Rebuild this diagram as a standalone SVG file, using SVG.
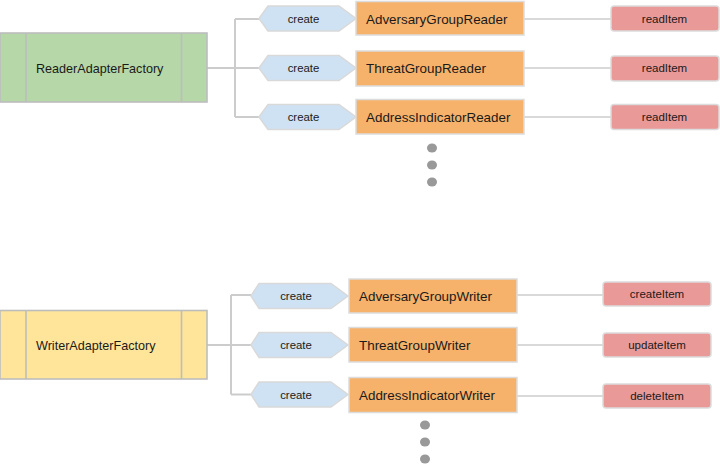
<svg xmlns="http://www.w3.org/2000/svg" width="720" height="464" viewBox="0 0 720 464">
  <style>
    text { font-family: "Liberation Sans", Arial, sans-serif; fill: #1a1a1a; }
    .factory { stroke: #bdbdbd; stroke-width: 1.6; }
    .divider { stroke: #bdbdbd; stroke-width: 1.6; fill: none; }
    .ftext { font-size: 12.6px; }
    .hex { fill: #cfe2f3; stroke: #d9d9d9; stroke-width: 1.5; }
    .htext { font-size: 11.4px; text-anchor: middle; }
    .cls { fill: #f6b26b; stroke: #dcdcdc; stroke-width: 1.5; }
    .ctext { font-size: 13.4px; }
    .method { fill: #ea9999; stroke: #dcdcdc; stroke-width: 1.5; }
    .mtext { font-size: 11.5px; text-anchor: middle; }
    .link { stroke: #d9d9d9; stroke-width: 2; fill: none; }
    .trunk { stroke: #cccccc; stroke-width: 2; fill: none; }
    .dot { fill: #999999; }
  </style>

  <!-- connectors -->
  <g id="connectors">
    <!-- reader side -->
    <path class="trunk" d="M207,68 H235 M235,19 V117 M235,19 H259 M235,68 H259 M235,117 H259"/>
    <path class="link" d="M524,19 H611 M524,68 H611 M524,117 H611"/>
    <!-- writer side -->
    <path class="trunk" d="M207,345 H231 M231,295 V394.5 M231,295 H251 M231,345 H251 M231,394.5 H251"/>
    <path class="link" d="M517,295 H603 M517,345 H603 M517,396 H603"/>
  </g>

  <!-- reader factory -->
  <g id="reader-factory">
    <rect class="factory" x="0" y="33" width="207" height="69" fill="#b6d7a8"/>
    <path class="divider" d="M26,33 V102 M181.5,33 V102"/>
    <text class="ftext" x="36" y="73">ReaderAdapterFactory</text>
  </g>

  <!-- reader create labels -->
  <g id="reader-create-1">
    <polygon class="hex" points="259,18.5 268,6 339,6 356,18.5 339,31 268,31"/>
    <text class="htext" x="303.5" y="22.5">create</text>
  </g>
  <g id="reader-create-2">
    <polygon class="hex" points="259,68 268,55.5 339,55.5 356,68 339,80.5 268,80.5"/>
    <text class="htext" x="303.5" y="72">create</text>
  </g>
  <g id="reader-create-3">
    <polygon class="hex" points="259,117 268,104.5 339,104.5 356,117 339,129.5 268,129.5"/>
    <text class="htext" x="303.5" y="121">create</text>
  </g>

  <!-- reader classes -->
  <g id="adversary-group-reader">
    <rect class="cls" x="356" y="1.5" width="168" height="33.5"/>
    <text class="ctext" x="366" y="23.5">AdversaryGroupReader</text>
  </g>
  <g id="threat-group-reader">
    <rect class="cls" x="356" y="51" width="168" height="35"/>
    <text class="ctext" x="366" y="73">ThreatGroupReader</text>
  </g>
  <g id="address-indicator-reader">
    <rect class="cls" x="356" y="99.5" width="168" height="34.5"/>
    <text class="ctext" x="366" y="122">AddressIndicatorReader</text>
  </g>

  <!-- reader methods -->
  <g id="reader-read-1">
    <rect class="method" x="611" y="6" width="108" height="25" rx="3"/>
    <text class="mtext" x="664.5" y="22.5">readItem</text>
  </g>
  <g id="reader-read-2">
    <rect class="method" x="611" y="56" width="108" height="25" rx="3"/>
    <text class="mtext" x="664.5" y="72">readItem</text>
  </g>
  <g id="reader-read-3">
    <rect class="method" x="611" y="104.5" width="108" height="25" rx="3"/>
    <text class="mtext" x="664.5" y="121">readItem</text>
  </g>

  <g id="reader-more">
    <ellipse class="dot" cx="432" cy="148" rx="5" ry="4.5"/>
    <ellipse class="dot" cx="432" cy="165" rx="5" ry="4.5"/>
    <ellipse class="dot" cx="432" cy="182" rx="5" ry="4.5"/>
  </g>

  <!-- writer factory -->
  <g id="writer-factory">
    <rect class="factory" x="0" y="310.5" width="207" height="68.5" fill="#ffe599"/>
    <path class="divider" d="M26,310.5 V379 M181.5,310.5 V379"/>
    <text class="ftext" x="36" y="350">WriterAdapterFactory</text>
  </g>

  <!-- writer create labels -->
  <g id="writer-create-1">
    <polygon class="hex" points="251,296 259,283.5 331,283.5 348,296 331,308.5 259,308.5"/>
    <text class="htext" x="296" y="300">create</text>
  </g>
  <g id="writer-create-2">
    <polygon class="hex" points="251,345 259,332.5 331,332.5 348,345 331,357.5 259,357.5"/>
    <text class="htext" x="296" y="349">create</text>
  </g>
  <g id="writer-create-3">
    <polygon class="hex" points="251,394.5 259,382 331,382 348,394.5 331,407 259,407"/>
    <text class="htext" x="296" y="398.5">create</text>
  </g>

  <!-- writer classes -->
  <g id="adversary-group-writer">
    <rect class="cls" x="349" y="279" width="168" height="34"/>
    <text class="ctext" x="359" y="301">AdversaryGroupWriter</text>
  </g>
  <g id="threat-group-writer">
    <rect class="cls" x="349" y="327.5" width="168" height="34.5"/>
    <text class="ctext" x="359" y="350">ThreatGroupWriter</text>
  </g>
  <g id="address-indicator-writer">
    <rect class="cls" x="349" y="377.5" width="168" height="35"/>
    <text class="ctext" x="359" y="400">AddressIndicatorWriter</text>
  </g>

  <!-- writer methods -->
  <g id="writer-create-item">
    <rect class="method" x="603" y="282" width="108" height="24" rx="3"/>
    <text class="mtext" x="657" y="298">createItem</text>
  </g>
  <g id="writer-update-item">
    <rect class="method" x="603" y="333" width="108" height="24" rx="3"/>
    <text class="mtext" x="657" y="349">updateItem</text>
  </g>
  <g id="writer-delete-item">
    <rect class="method" x="603" y="384" width="108" height="24" rx="3"/>
    <text class="mtext" x="657" y="400">deleteItem</text>
  </g>

  <g id="writer-more">
    <ellipse class="dot" cx="425" cy="425" rx="5" ry="4.5"/>
    <ellipse class="dot" cx="425" cy="442" rx="5" ry="4.5"/>
    <ellipse class="dot" cx="425" cy="459" rx="5" ry="4.5"/>
  </g>
</svg>
